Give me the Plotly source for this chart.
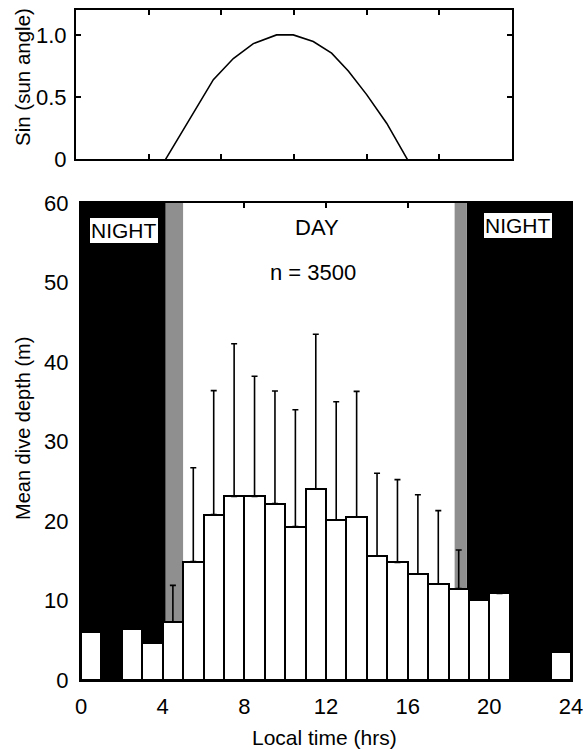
import plotly.graph_objects as go

# ---- data ----
hours = list(range(24))
mean_depth = [6.1, None, 6.4, 4.7, 7.3, 14.9, 20.8, 23.1, 23.1, 22.2, 19.3, 24.0,
              20.1, 20.5, 15.6, 14.8, 13.3, 12.1, 11.5, 10.1, 10.9, None, None, 3.5]
depth_sd_top = [None, None, None, None, 11.9, 26.7, 36.4, 42.3, 38.2, 36.35, 34.0, 43.5,
                35.0, 36.3, 26.0, 25.2, 23.3, 21.3, 16.35, None, None, None, None, None]
sun_hours = [4.93, 6.27, 7.56, 8.66, 9.76, 11.04, 11.96, 13.06, 14.07, 14.99, 16.0, 17.1, 18.24]
sun_sin = [0.0, 0.33, 0.64, 0.81, 0.93, 1.0, 1.0, 0.946, 0.853, 0.71, 0.52, 0.29, 0.0]
x_ticks = [0, 4, 8, 12, 16, 20, 24]
y_ticks = [0, 10, 20, 30, 40, 50, 60]
sun_ticks = [0, 0.5, 1.0]
sun_ticklabels = ["0", "0.5", "1.0"]
night_periods = [(0, 4.15), (18.9, 24)]
twilight_periods = [(4.15, 5.0), (18.3, 18.9)]

FONT = "Liberation Sans"
W, H = 583, 749

centers = [h + 0.5 for h in hours]
err_plus = [(t - m) if (t is not None and m is not None) else None
            for t, m in zip(depth_sd_top, mean_depth)]

fig = go.Figure()

fig.add_trace(go.Scatter(x=sun_hours, y=sun_sin, mode="lines",
                         line=dict(color="black", width=1.6),
                         xaxis="x2", yaxis="y2", showlegend=False))

fig.add_trace(go.Bar(x=centers, y=mean_depth, width=1.0,
                     marker=dict(color="white", line=dict(color="black", width=2)),
                     error_y=dict(type="data", array=err_plus, symmetric=False,
                                  arrayminus=[0] * 24, color="black",
                                  thickness=1.6, width=3),
                     xaxis="x", yaxis="y", showlegend=False))

shapes = []
for a, b in night_periods:
    shapes.append(dict(type="rect", xref="x", yref="y", x0=a, x1=b, y0=0, y1=60,
                       fillcolor="black", line=dict(width=0), layer="below"))
for a, b in twilight_periods:
    shapes.append(dict(type="rect", xref="x", yref="y", x0=a, x1=b, y0=0, y1=60,
                       fillcolor="#8f8f8f", line=dict(width=0), layer="below"))

C = dict(xanchor="center", yanchor="middle", showarrow=False)
annotations = [
    dict(text="NIGHT", x=2.1, y=56.6, xref="x", yref="y",
         font=dict(family=FONT, size=21, color="black"), bgcolor="white",
         bordercolor="black", borderwidth=1, borderpad=1, **C),
    dict(text="NIGHT", x=21.4, y=57.2, xref="x", yref="y",
         font=dict(family=FONT, size=21, color="black"), bgcolor="white",
         bordercolor="black", borderwidth=1, borderpad=1, **C),
    dict(text="DAY", x=11.58, y=56.9, xref="x", yref="y",
         font=dict(family=FONT, size=22, color="black"), **C),
    dict(text="n = 3500", x=11.34, y=51.2, xref="x", yref="y",
         font=dict(family=FONT, size=22, color="black"), **C),
    dict(text="Local time (hrs)", x=325 / W, y=1 - 737 / H, xref="paper", yref="paper",
         font=dict(family=FONT, size=21, color="black"), **C),
    dict(text="Mean dive depth (m)", x=23 / W, y=1 - 429 / H, xref="paper", yref="paper",
         textangle=-90, font=dict(family=FONT, size=20, color="black"), **C),
    dict(text="Sin (sun angle)", x=22 / W, y=1 - 77 / H, xref="paper", yref="paper",
         textangle=-90, font=dict(family=FONT, size=20.5, color="black"), **C),
]

axis_common = dict(showline=True, linecolor="black", linewidth=2, mirror="ticks",
                   ticks="inside", ticklen=5, tickwidth=1.5, tickcolor="black",
                   showgrid=False, zeroline=False, automargin=False,
                   ticklabeloverflow="allow",
                   tickfont=dict(family=FONT, size=22, color="black"))

fig.update_layout(
    width=W, height=H,
    margin=dict(l=0, r=0, t=0, b=0),
    paper_bgcolor="white", plot_bgcolor="white",
    bargap=0,
    shapes=shapes, annotations=annotations,
    xaxis=dict(domain=[81 / W, 571 / W], range=[0, 24], tickvals=x_ticks,
               ticklabelstandoff=6, anchor="y", **axis_common),
    yaxis=dict(domain=[1 - 680 / H, 1 - 203 / H], range=[0, 60], tickvals=y_ticks,
               ticklabelstandoff=6, anchor="x", **axis_common),
    xaxis2=dict(domain=[76 / W, 512 / W], range=[0, 24], tickvals=x_ticks,
                showticklabels=False, anchor="y2", **axis_common),
    yaxis2=dict(domain=[1 - 159.3 / H, 1 - 10 / H], range=[0, 1.2], tickvals=sun_ticks,
                ticktext=sun_ticklabels, ticklabelstandoff=3, anchor="x2", **axis_common),
)

fig.write_html("out.html")
